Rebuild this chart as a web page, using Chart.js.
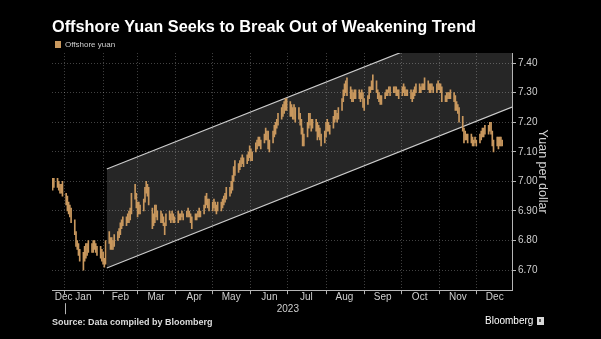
<!DOCTYPE html>
<html>
<head>
<meta charset="utf-8">
<script src="https://cdn.jsdelivr.net/npm/chart.js@4"></script>
<style>
  html, body { margin: 0; padding: 0; background: #000; }
</style>
</head>
<body>
<canvas id="myChart" width="601" height="339"></canvas>
<script>
// day numbers are counted from 1 Jan 2023 (day 0, a Sunday)
var firstDay = -10, lastDay = 355;

// daily low / high, one row per week (Mon..Fri)
var lows = [
  6.97, 6.98,                       // Dec 22-23
  6.98, 6.97, 6.96, 6.96, 6.95,     // Dec 26
  6.92, 6.90, 6.89, 6.88, 6.86,     // Jan 2
  6.82, 6.78, 6.77, 6.75, 6.73,     // Jan 9
  6.70, 6.73, 6.74, 6.75, 6.76,     // Jan 16
  6.76, 6.76, 6.77, 6.76, 6.75,     // Jan 23
  6.74, 6.73, 6.72, 6.71, 6.72,     // Jan 30
  6.79, 6.77, 6.77, 6.77, 6.78,     // Feb 6
  6.80, 6.81, 6.82, 6.84, 6.85,     // Feb 13
  6.85, 6.86, 6.86, 6.87, 6.89,     // Feb 20
  6.94, 6.91, 6.88, 6.89, 6.89,     // Feb 27
  6.90, 6.93, 6.96, 6.95, 6.92,     // Mar 6
  6.84, 6.85, 6.86, 6.88, 6.87,     // Mar 13
  6.86, 6.86, 6.85, 6.82, 6.85,     // Mar 20
  6.87, 6.86, 6.87, 6.86, 6.86,     // Mar 27
  6.86, 6.87, 6.87, 6.88, 6.87,     // Apr 3
  6.88, 6.88, 6.88, 6.86, 6.84,     // Apr 10
  6.87, 6.87, 6.88, 6.88, 6.88,     // Apr 17
  6.89, 6.91, 6.92, 6.91, 6.90,     // Apr 24
  6.90, 6.91, 6.90, 6.89, 6.90,     // May 1
  6.90, 6.91, 6.92, 6.93, 6.94,     // May 8
  6.95, 6.96, 6.97, 7.00, 7.02,     // May 15
  7.03, 7.04, 7.05, 7.06, 7.05,     // May 22
  7.06, 7.07, 7.08, 7.07, 7.07,     // May 29
  7.10, 7.11, 7.12, 7.12, 7.11,     // Jun 5
  7.13, 7.14, 7.14, 7.11, 7.10,     // Jun 12
  7.13, 7.15, 7.16, 7.18, 7.19,     // Jun 19
  7.21, 7.22, 7.23, 7.24, 7.24,     // Jun 26
  7.22, 7.22, 7.21, 7.21, 7.20,     // Jul 3
  7.21, 7.19, 7.16, 7.12, 7.12,     // Jul 10
  7.15, 7.18, 7.19, 7.17, 7.18,     // Jul 17
  7.17, 7.14, 7.15, 7.14, 7.12,     // Jul 24
  7.13, 7.15, 7.17, 7.17, 7.16,     // Jul 31
  7.18, 7.20, 7.21, 7.20, 7.21,     // Aug 7
  7.24, 7.27, 7.29, 7.30, 7.29,     // Aug 14
  7.28, 7.27, 7.27, 7.28, 7.28,     // Aug 21
  7.28, 7.27, 7.28, 7.25, 7.24,     // Aug 28
  7.26, 7.28, 7.30, 7.31, 7.31,     // Sep 4
  7.30, 7.28, 7.27, 7.26, 7.26,     // Sep 11
  7.28, 7.29, 7.29, 7.30, 7.29,     // Sep 18
  7.30, 7.30, 7.29, 7.29, 7.28,     // Sep 25
  7.29, 7.30, 7.29, 7.29, 7.29,     // Oct 2
  7.28, 7.27, 7.28, 7.29, 7.30,     // Oct 9
  7.30, 7.30, 7.31, 7.31, 7.31,     // Oct 16
  7.31, 7.30, 7.30, 7.31, 7.30,     // Oct 23
  7.30, 7.31, 7.31, 7.30, 7.27,     // Oct 30
  7.27, 7.27, 7.28, 7.28, 7.28,     // Nov 6
  7.27, 7.24, 7.24, 7.23, 7.20,     // Nov 13
  7.17, 7.13, 7.14, 7.14, 7.13,     // Nov 20
  7.13, 7.12, 7.12, 7.13, 7.12,     // Nov 27
  7.13, 7.14, 7.15, 7.15, 7.16,     // Dec 4
  7.16, 7.17, 7.16, 7.12, 7.10,     // Dec 11
  7.12, 7.11, 7.12, 7.12, 7.12      // Dec 18
];
var highs = [
  7.01, 7.01,
  7.01, 7.00, 6.99, 6.99, 7.00,
  6.96, 6.95, 6.93, 6.92, 6.91,
  6.87, 6.83, 6.80, 6.79, 6.77,
  6.76, 6.78, 6.79, 6.79, 6.80,
  6.79, 6.80, 6.80, 6.79, 6.78,
  6.78, 6.77, 6.76, 6.74, 6.80,
  6.83, 6.81, 6.81, 6.80, 6.82,
  6.83, 6.84, 6.86, 6.87, 6.88,
  6.88, 6.89, 6.90, 6.91, 6.96,
  6.99, 6.96, 6.93, 6.93, 6.92,
  6.94, 6.98, 7.00, 6.99, 6.98,
  6.91, 6.89, 6.92, 6.92, 6.90,
  6.90, 6.89, 6.88, 6.86, 6.89,
  6.90, 6.89, 6.90, 6.89, 6.88,
  6.90, 6.89, 6.89, 6.90, 6.89,
  6.90, 6.91, 6.90, 6.89, 6.88,
  6.89, 6.89, 6.90, 6.91, 6.90,
  6.92, 6.95, 6.96, 6.94, 6.94,
  6.93, 6.94, 6.93, 6.92, 6.93,
  6.93, 6.94, 6.95, 6.96, 6.98,
  6.98, 7.00, 7.02, 7.05, 7.07,
  7.06, 7.07, 7.08, 7.09, 7.08,
  7.09, 7.10, 7.12, 7.11, 7.10,
  7.13, 7.14, 7.15, 7.15, 7.14,
  7.16, 7.18, 7.17, 7.17, 7.14,
  7.17, 7.19, 7.20, 7.21, 7.23,
  7.25, 7.26, 7.27, 7.28, 7.28,
  7.27, 7.26, 7.25, 7.26, 7.25,
  7.25, 7.23, 7.21, 7.18, 7.16,
  7.20, 7.23, 7.23, 7.21, 7.21,
  7.21, 7.20, 7.19, 7.18, 7.16,
  7.17, 7.20, 7.21, 7.20, 7.19,
  7.22, 7.24, 7.24, 7.23, 7.25,
  7.28, 7.31, 7.33, 7.34, 7.35,
  7.32, 7.31, 7.30, 7.31, 7.31,
  7.31, 7.30, 7.31, 7.30, 7.28,
  7.29, 7.32, 7.32, 7.34, 7.36,
  7.34, 7.31, 7.30, 7.29, 7.29,
  7.30, 7.31, 7.31, 7.32, 7.32,
  7.32, 7.32, 7.32, 7.31, 7.31,
  7.32, 7.33, 7.32, 7.31, 7.31,
  7.31, 7.30, 7.31, 7.32, 7.33,
  7.33, 7.32, 7.33, 7.33, 7.35,
  7.34, 7.33, 7.33, 7.33, 7.32,
  7.33, 7.34, 7.33, 7.33, 7.32,
  7.29, 7.30, 7.30, 7.30, 7.31,
  7.30, 7.29, 7.27, 7.26, 7.25,
  7.22, 7.18, 7.17, 7.16, 7.16,
  7.16, 7.15, 7.14, 7.15, 7.14,
  7.16, 7.17, 7.18, 7.18, 7.19,
  7.19, 7.20, 7.20, 7.17, 7.14,
  7.15, 7.15, 7.15, 7.15, 7.14
];

// trend channel (start / end of the two parallel lines)
var channelDays  = [34, 363];
var channelUpper = [7.042, 7.585];
var channelLower = [6.707, 7.251];

var yTicks = [6.70, 6.80, 6.90, 7.00, 7.10, 7.20, 7.30, 7.40];
var monthStartDays = [0, 31, 59, 90, 120, 151, 181, 212, 243, 273, 304, 334];
var monthLabelDays = [-1, 15, 45, 74, 105, 135, 166, 196, 227, 258, 288, 319, 349];
var monthLabels = ['Dec','Jan','Feb','Mar','Apr','May','Jun','Jul','Aug','Sep','Oct','Nov','Dec'];
var yearDay = 181, yearLabel = '2023';

//trading days (weekdays)
var tradeDays = [];
for (var d = firstDay; d <= lastDay; d++) {
  var wd = ((d % 7) + 7) % 7;   // 0 = Sunday
  if (wd !== 0 && wd !== 6) tradeDays.push(d);
}
var bars = tradeDays.map(function(day, i) { return {x: day, y: [lows[i], highs[i]]}; });
var upperPts = channelDays.map(function(day, i) { return {x: day, y: channelUpper[i]}; });
var lowerPts = channelDays.map(function(day, i) { return {x: day, y: channelLower[i]}; });

var barColor = '#c9985e';
var gridColor = 'rgba(255,255,255,0.26)';
var axisColor = '#b5b5b5';
var textColor = '#cfcfcf';

Chart.defaults.font.family = "'Liberation Sans', Arial, sans-serif";

//black background + bloomberg mark + long year tick
var extras = {
  id: 'extras',
  beforeInit: function(chart) {
    var fit = chart.legend.fit;
    chart.legend.fit = function() { fit.bind(chart.legend)(); this.height -= 5.5; };
  },
  beforeDraw: function(chart) {
    var c = chart.ctx;
    c.save();
    c.fillStyle = '#000';
    c.fillRect(0, 0, chart.width, chart.height);
    c.restore();
  },
  afterDraw: function(chart) {
    var c = chart.ctx, a = chart.chartArea;
    var x = Math.round(chart.scales.x.getPixelForValue(0)) + 0.5;
    c.save();
    c.strokeStyle = axisColor;
    c.lineWidth = 1;
    c.beginPath();
    c.moveTo(x, a.bottom + 13);
    c.lineTo(x, a.bottom + 24);
    c.stroke();
    c.fillStyle = '#fff';
    c.font = "10px 'Liberation Sans', Arial, sans-serif";
    c.textBaseline = 'middle';
    c.fillText('Bloomberg', 485, 321);
    c.fillStyle = '#d8d8d8';
    c.fillRect(537, 317, 7, 8);
    c.fillStyle = '#555';
    c.fillRect(539, 319, 2, 3);
    c.restore();
  }
};

var ctx = document.getElementById('myChart').getContext('2d');
var myChart = new Chart(ctx, {
  type: 'bar',
  data: {
    datasets: [{
      label: 'Offshore yuan',
      data: bars,
      backgroundColor: barColor,
      borderWidth: 0,
      barThickness: 1,
      grouped: false,
      order: 0
    }, {
      type: 'line',
      label: 'upper',
      data: upperPts,
      borderColor: '#cccccc',
      borderWidth: 1.2,
      pointRadius: 0,
      fill: false,
      order: 1
    }, {
      type: 'line',
      label: 'lower',
      data: lowerPts,
      borderColor: '#cccccc',
      borderWidth: 1.2,
      pointRadius: 0,
      fill: '-1',
      backgroundColor: 'rgba(255,255,255,0.15)',
      order: 1
    }]
  },
  options: {
    responsive: false,
    animation: false,
    devicePixelRatio: 1,
    layout: { padding: { left: 52, right: 51, top: 18, bottom: 11 } },
    plugins: {
      title: {
        display: true,
        text: 'Offshore Yuan Seeks to Break Out of Weakening Trend',
        align: 'start',
        color: '#fff',
        font: { size: 16.3, weight: 'bold' },
        padding: 0
      },
      subtitle: {
        display: true,
        position: 'bottom',
        text: 'Source: Data compiled by Bloomberg',
        align: 'start',
        color: '#dcdcdc',
        font: { size: 9, weight: 'bold' },
        padding: { top: 5, bottom: 0 }
      },
      legend: {
        display: true,
        align: 'start',
        labels: {
          color: textColor,
          boxWidth: 6,
          boxHeight: 7,
          padding: 3,
          font: { size: 8 },
          filter: function(item) { return item.datasetIndex === 0; }
        }
      },
      tooltip: { enabled: false }
    },
    scales: {
      x: {
        type: 'linear',
        min: -10.5,
        max: 363,
        offset: false,
        afterBuildTicks: function(scale) {
          var vals = monthStartDays.concat(monthLabelDays).sort(function(a, b) { return a - b; });
          scale.ticks = vals.map(function(v) { return {value: v}; });
        },
        ticks: {
          autoSkip: false,
          maxRotation: 0,
          color: textColor,
          font: { size: 10 },
          padding: -3,
          callback: function(value) {
            var i = monthLabelDays.indexOf(value);
            if (i >= 0) return monthLabels[i];
            if (value === yearDay) return ['', yearLabel];
            return '';
          }
        },
        grid: {
          offset: false,
          tickLength: 4,
          color: function(c) { return (c.tick && monthStartDays.indexOf(c.tick.value) >= 0) ? gridColor : 'transparent'; },
          tickColor: function(c) { return (c.tick && monthStartDays.indexOf(c.tick.value) >= 0) ? axisColor : 'transparent'; }
        },
        border: { color: axisColor, width: 1, dash: [1, 2] }
      },
      y: {
        position: 'right',
        min: 6.632,
        max: 7.434,
        afterBuildTicks: function(scale) {
          scale.ticks = yTicks.map(function(v) { return {value: v}; });
        },
        afterFit: function(scale) { scale.width = 38; },
        ticks: {
          color: textColor,
          font: { size: 10 },
          padding: 2,
          callback: function(value) { return value.toFixed(2); }
        },
        grid: { color: gridColor, tickColor: axisColor, tickLength: 4 },
        border: { color: axisColor, width: 1, dash: [1, 2] },
        title: {
          display: true,
          text: 'Yuan per dollar',
          color: textColor,
          font: { size: 12.5 },
          padding: 0
        }
      }
    }
  },
  plugins: [extras]
});
</script>
</body>
</html>
